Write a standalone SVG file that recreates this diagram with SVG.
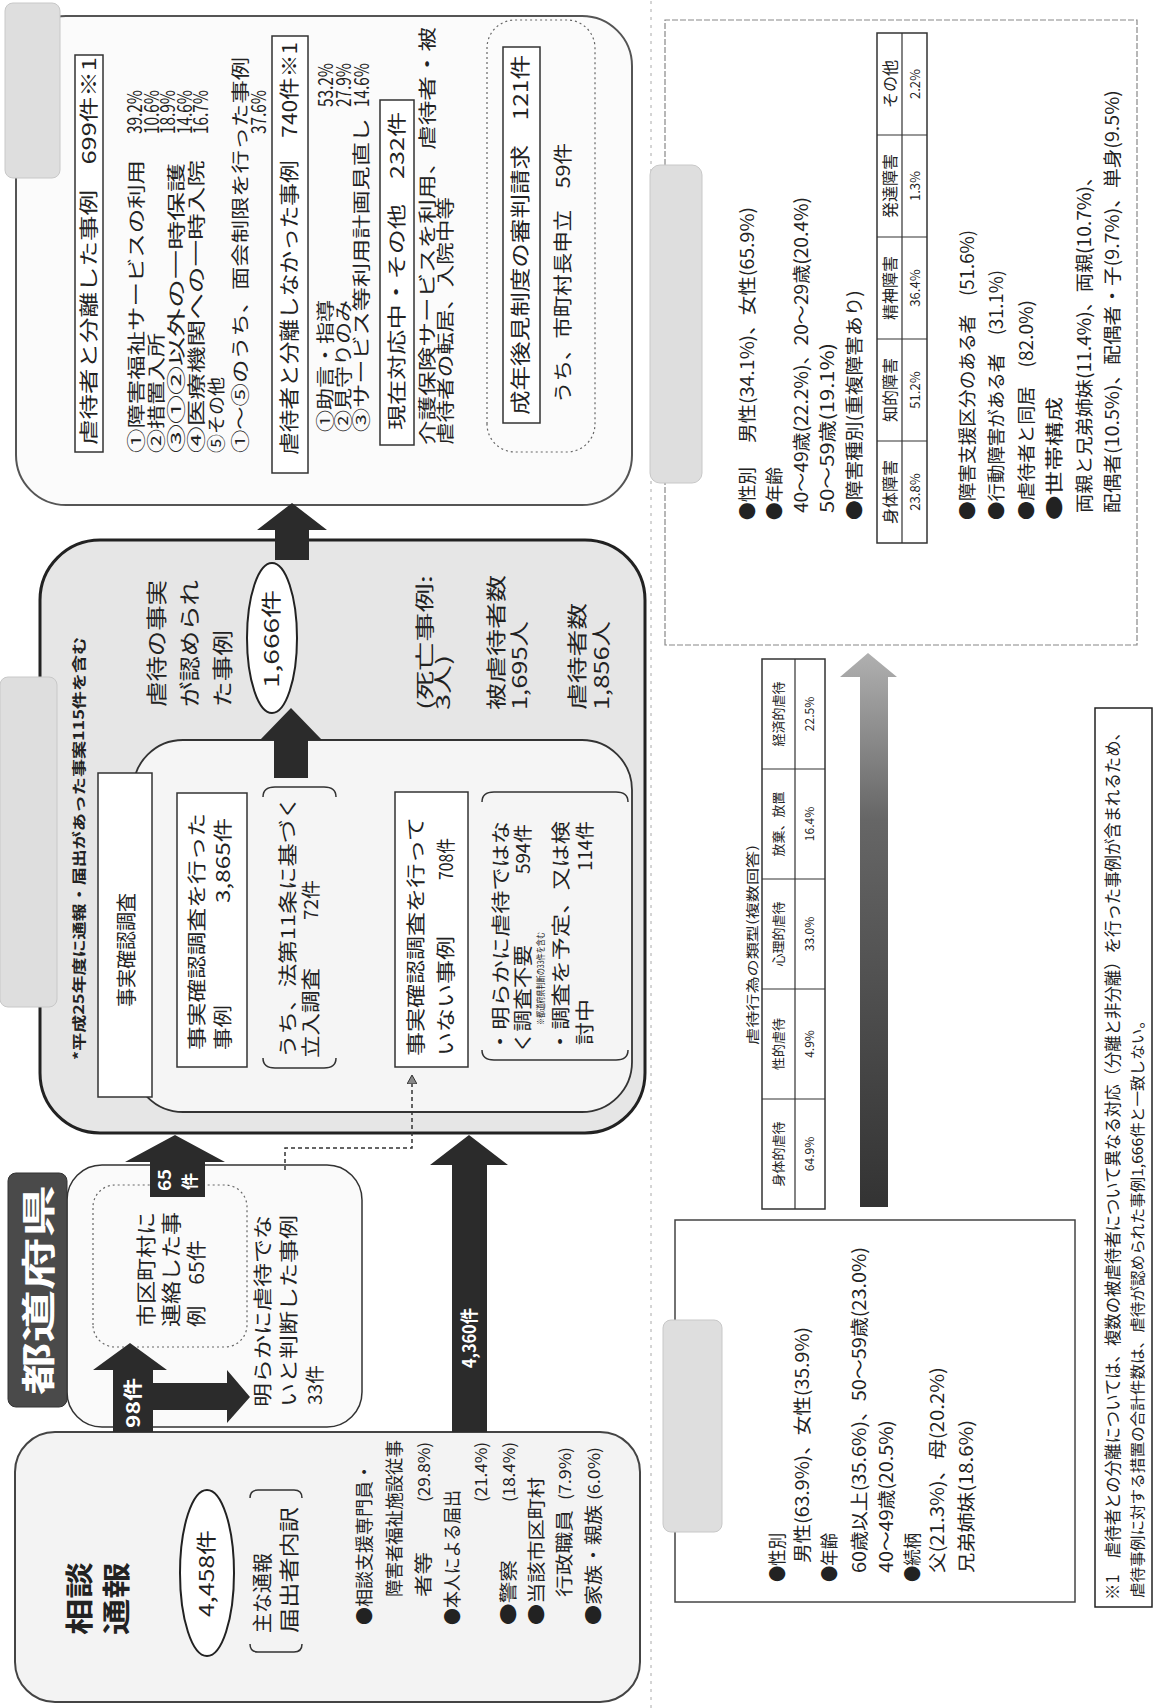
<svg xmlns="http://www.w3.org/2000/svg" width="1160" height="1708" viewBox="0 0 1160 1708">
<style>
text{font-family:"Noto Sans CJK JP","Noto Sans",sans-serif;fill:#222;}
.b{font-weight:bold;}
.w{fill:#fff;font-weight:bold;}
.bx{fill:#fff;stroke:#333;stroke-width:1.5;}
.dot{fill:none;stroke:#666;stroke-width:1.2;stroke-dasharray:2 3;}
.br{fill:none;stroke:#333;stroke-width:1.5;}
.arr{fill:#2b2b2b;}
.tab{fill:#dedede;stroke:#c8c8c8;stroke-width:1;}
.tl{stroke:#333;stroke-width:1.2;}
</style>
<defs>
<linearGradient id="ga" x1="0" y1="0" x2="1" y2="0">
<stop offset="0" stop-color="#333"/><stop offset="0.7" stop-color="#666"/><stop offset="1" stop-color="#b0b0b0"/>
</linearGradient>
<marker id="mh" markerWidth="10" markerHeight="10" refX="8" refY="5" orient="auto" markerUnits="userSpaceOnUse">
<path d="M0,0 L9,5 L0,10 Z" fill="#888" stroke="#333" stroke-width="1"/>
</marker>
</defs>
<rect x="0" y="0" width="1160" height="1708" fill="#fff"/>
<g transform="matrix(0 -1 1 0 0 1708)">
<line x1="0" y1="651" x2="1708" y2="651" stroke="#aaa" stroke-width="1" stroke-dasharray="3 5"/>

<g id="outcome">
<rect x="1203" y="16" width="489" height="616" rx="50" fill="#fbfbfb" stroke="#555" stroke-width="2"/>
<rect x="1530" y="5" width="175" height="55" rx="8" class="tab"/>
<rect x="1256" y="75" width="397" height="28" class="bx"/>
<text x="1263" y="96" font-size="19" textLength="388" lengthAdjust="spacingAndGlyphs">虐待者と分離した事例　699件※1</text>
<text x="1255" y="143" font-size="18" textLength="293" lengthAdjust="spacingAndGlyphs">①障害福祉サービスの利用</text>
<text x="1255" y="163" font-size="18" textLength="120" lengthAdjust="spacingAndGlyphs">②措置入所</text>
<text x="1255" y="183" font-size="18" textLength="290" lengthAdjust="spacingAndGlyphs">③①②以外の一時保護</text>
<text x="1255" y="203" font-size="18" textLength="293" lengthAdjust="spacingAndGlyphs">④医療機関への一時入院</text>
<text x="1255" y="223" font-size="18" textLength="76" lengthAdjust="spacingAndGlyphs">⑤その他</text>
<text x="1255" y="247" font-size="18" textLength="396" lengthAdjust="spacingAndGlyphs">①〜⑤のうち、面会制限を行った事例</text>
<text x="1574" y="142" font-size="20" textLength="44" lengthAdjust="spacingAndGlyphs">39.2%</text>
<text x="1574" y="159" font-size="20" textLength="44" lengthAdjust="spacingAndGlyphs">10.6%</text>
<text x="1574" y="175" font-size="20" textLength="44" lengthAdjust="spacingAndGlyphs">18.9%</text>
<text x="1574" y="192" font-size="20" textLength="44" lengthAdjust="spacingAndGlyphs">14.6%</text>
<text x="1574" y="208" font-size="20" textLength="44" lengthAdjust="spacingAndGlyphs">16.7%</text>
<text x="1574" y="266" font-size="20" textLength="44" lengthAdjust="spacingAndGlyphs">37.6%</text>
<rect x="1235" y="272" width="437" height="36" class="bx"/>
<text x="1253" y="297" font-size="20" textLength="413" lengthAdjust="spacingAndGlyphs">虐待者と分離しなかった事例　740件※1</text>
<text x="1276" y="332" font-size="18" textLength="132" lengthAdjust="spacingAndGlyphs">①助言・指導</text>
<text x="1276" y="350" font-size="18" textLength="132" lengthAdjust="spacingAndGlyphs">②見守りのみ</text>
<text x="1276" y="368" font-size="18" textLength="314" lengthAdjust="spacingAndGlyphs">③サービス等利用計画見直し</text>
<text x="1601" y="333" font-size="20" textLength="44" lengthAdjust="spacingAndGlyphs">53.2%</text>
<text x="1601" y="351" font-size="20" textLength="44" lengthAdjust="spacingAndGlyphs">27.9%</text>
<text x="1601" y="369" font-size="20" textLength="44" lengthAdjust="spacingAndGlyphs">14.6%</text>
<rect x="1263" y="380" width="345" height="34" class="bx"/>
<text x="1278" y="404" font-size="19" textLength="318" lengthAdjust="spacingAndGlyphs">現在対応中・その他　232件</text>
<text x="1263" y="434" font-size="18" textLength="418" lengthAdjust="spacingAndGlyphs">介護保険サービスを利用、虐待者・被</text>
<text x="1263" y="452" font-size="18" textLength="248" lengthAdjust="spacingAndGlyphs">虐待者の転居、入院中等</text>
<rect x="1256" y="487" width="432" height="108" rx="28" class="dot"/>
<rect x="1285" y="503" width="376" height="37" class="bx"/>
<text x="1293" y="528" font-size="20" textLength="360" lengthAdjust="spacingAndGlyphs">成年後見制度の審判請求　121件</text>
<text x="1305" y="570" font-size="19" textLength="260" lengthAdjust="spacingAndGlyphs">うち、市町村長申立　59件</text>
</g>

<g id="shikuchoson">
<rect x="575" y="40" width="593" height="605" rx="60" fill="#e6e6e6" stroke="#222" stroke-width="3"/>
<rect x="701" y="0" width="330" height="57" rx="8" class="tab"/>
<text x="648" y="84" font-size="14" class="b" textLength="423" lengthAdjust="spacingAndGlyphs">*平成25年度に通報・届出があった事案115件を含む</text>
<rect x="596" y="133" width="372" height="499" rx="50" fill="#f5f5f5" stroke="#333" stroke-width="1.8"/>
<rect x="611" y="98" width="324" height="54" class="bx"/>
<text x="701" y="134" font-size="20" textLength="114" lengthAdjust="spacingAndGlyphs">事実確認調査</text>
<rect x="641" y="177" width="274" height="70" class="bx"/>
<text x="658" y="204" font-size="19" textLength="237" lengthAdjust="spacingAndGlyphs">事実確認調査を行った</text>
<text x="658" y="230" font-size="19" textLength="45" lengthAdjust="spacingAndGlyphs">事例</text>
<text x="805" y="230" font-size="19" textLength="85" lengthAdjust="spacingAndGlyphs">3,865件</text>
<path class="br" d="M650 263 Q640 263 640 275 L640 324 Q640 336 650 336 M911 263 Q921 263 921 275 L921 324 Q921 336 911 336"/>
<text x="650" y="295" font-size="19" textLength="262" lengthAdjust="spacingAndGlyphs">うち、法第11条に基づく</text>
<text x="650" y="318" font-size="19" textLength="90" lengthAdjust="spacingAndGlyphs">立入調査</text>
<text x="788" y="318" font-size="19" textLength="40" lengthAdjust="spacingAndGlyphs">72件</text>
<rect x="641" y="395" width="275" height="73" class="bx"/>
<text x="652" y="423" font-size="19" textLength="239" lengthAdjust="spacingAndGlyphs">事実確認調査を行って</text>
<text x="652" y="453" font-size="19" textLength="120" lengthAdjust="spacingAndGlyphs">いない事例</text>
<text x="828" y="453" font-size="19" textLength="42" lengthAdjust="spacingAndGlyphs">708件</text>
<path class="br" d="M658 482 Q648 482 648 494 L648 616 Q648 628 658 628 M906 482 Q916 482 916 494 L916 616 Q916 628 906 628"/>
<text x="655" y="508" font-size="19" textLength="232" lengthAdjust="spacingAndGlyphs">・明らかに虐待ではな</text>
<text x="655" y="530" font-size="19" textLength="108" lengthAdjust="spacingAndGlyphs">く調査不要</text>
<text x="834" y="530" font-size="19" textLength="50" lengthAdjust="spacingAndGlyphs">594件</text>
<text x="683" y="544" font-size="9" textLength="93" lengthAdjust="spacingAndGlyphs">※都道府県判断の33件を含む</text>
<text x="655" y="568" font-size="19" textLength="232" lengthAdjust="spacingAndGlyphs">・調査を予定、又は検</text>
<text x="663" y="592" font-size="19" textLength="46" lengthAdjust="spacingAndGlyphs">討中</text>
<text x="837" y="592" font-size="19" textLength="50" lengthAdjust="spacingAndGlyphs">114件</text>
<text x="1001" y="164" font-size="21" textLength="127" lengthAdjust="spacingAndGlyphs">虐待の事実</text>
<text x="1001" y="197" font-size="21" textLength="127" lengthAdjust="spacingAndGlyphs">が認められ</text>
<text x="1001" y="230" font-size="21" textLength="77" lengthAdjust="spacingAndGlyphs">た事例</text>
<ellipse cx="1070" cy="272" rx="75" ry="25" fill="#fff" stroke="#222" stroke-width="2"/>
<text x="1020" y="279" font-size="20" textLength="98" lengthAdjust="spacingAndGlyphs">1,666件</text>
<text x="998" y="432" font-size="19" textLength="135" lengthAdjust="spacingAndGlyphs">(死亡事例:</text>
<text x="998" y="450" font-size="19" textLength="55" lengthAdjust="spacingAndGlyphs">3人)</text>
<text x="998" y="504" font-size="20" textLength="135" lengthAdjust="spacingAndGlyphs">被虐待者数</text>
<text x="998" y="527" font-size="20" textLength="89" lengthAdjust="spacingAndGlyphs">1,695人</text>
<text x="998" y="585" font-size="20" textLength="107" lengthAdjust="spacingAndGlyphs">虐待者数</text>
<text x="998" y="609" font-size="20" textLength="89" lengthAdjust="spacingAndGlyphs">1,856人</text>
</g>

<g id="todofuken">
<rect x="281" y="67" width="262" height="295" rx="35" fill="#fafafa" stroke="#333" stroke-width="1.5"/>
<rect x="301" y="8" width="234" height="59" rx="8" fill="#4a4a4a" stroke="#333"/>
<text x="313" y="51" font-size="34" class="w" textLength="210" lengthAdjust="spacingAndGlyphs">都道府県</text>
<rect x="361" y="93" width="162" height="154" rx="22" class="dot"/>
<text x="381" y="154" font-size="20" textLength="115" lengthAdjust="spacingAndGlyphs">市区町村に</text>
<text x="381" y="179" font-size="20" textLength="115" lengthAdjust="spacingAndGlyphs">連絡した事</text>
<text x="381" y="204" font-size="20" textLength="87" lengthAdjust="spacingAndGlyphs">例　65件</text>
<text x="301" y="270" font-size="19" textLength="192" lengthAdjust="spacingAndGlyphs">明らかに虐待でな</text>
<text x="301" y="296" font-size="19" textLength="192" lengthAdjust="spacingAndGlyphs">いと判断した事例</text>
<text x="303" y="322" font-size="19" textLength="40" lengthAdjust="spacingAndGlyphs">33件</text>
</g>

<g id="sodan">
<rect x="6" y="15" width="270" height="625" rx="40" fill="#f3f3f3" stroke="#444" stroke-width="2"/>
<text x="73" y="90" font-size="28" class="b" textLength="73" lengthAdjust="spacingAndGlyphs">相談</text>
<text x="73" y="127" font-size="28" class="b" textLength="73" lengthAdjust="spacingAndGlyphs">通報</text>
<ellipse cx="135" cy="207" rx="83" ry="27" fill="#fff" stroke="#222" stroke-width="2"/>
<text x="91" y="214" font-size="20" textLength="87" lengthAdjust="spacingAndGlyphs">4,458件</text>
<path class="br" d="M64 250 Q56 250 56 258 L56 294 Q56 302 64 302 M210 250 Q218 250 218 258 L218 294 Q218 302 210 302"/>
<text x="75" y="270" font-size="20" textLength="80" lengthAdjust="spacingAndGlyphs">主な通報</text>
<text x="75" y="297" font-size="20" textLength="126" lengthAdjust="spacingAndGlyphs">届出者内訳</text>
<text x="83" y="371" font-size="18" textLength="162" lengthAdjust="spacingAndGlyphs">●相談支援専門員・</text>
<text x="111" y="401" font-size="18" textLength="157" lengthAdjust="spacingAndGlyphs">障害者福祉施設従事</text>
<text x="111" y="430" font-size="18" textLength="45" lengthAdjust="spacingAndGlyphs">者等</text>
<text x="206" y="430" font-size="16" textLength="60" lengthAdjust="spacingAndGlyphs">(29.8%)</text>
<text x="83" y="459" font-size="18" textLength="135" lengthAdjust="spacingAndGlyphs">●本人による届出</text>
<text x="206" y="487" font-size="16" textLength="60" lengthAdjust="spacingAndGlyphs">(21.4%)</text>
<text x="83" y="515" font-size="18" textLength="65" lengthAdjust="spacingAndGlyphs">●警察</text>
<text x="206" y="515" font-size="16" textLength="60" lengthAdjust="spacingAndGlyphs">(18.4%)</text>
<text x="83" y="543" font-size="18" textLength="148" lengthAdjust="spacingAndGlyphs">●当該市区町村</text>
<text x="111" y="571" font-size="18" textLength="87" lengthAdjust="spacingAndGlyphs">行政職員</text>
<text x="208" y="571" font-size="16" textLength="53" lengthAdjust="spacingAndGlyphs">(7.9%)</text>
<text x="83" y="600" font-size="18" textLength="120" lengthAdjust="spacingAndGlyphs">●家族・親族</text>
<text x="208" y="600" font-size="16" textLength="53" lengthAdjust="spacingAndGlyphs">(6.0%)</text>
</g>

<g id="hi-gyakutaisha">
<rect x="1063" y="665" width="625" height="472" fill="#fff" stroke="#888" stroke-width="1.2" stroke-dasharray="6 2"/>
<rect x="1225" y="650" width="318" height="52" rx="10" class="tab"/>
<text x="1188" y="754" font-size="18" textLength="53" lengthAdjust="spacingAndGlyphs">●性別</text>
<text x="1265" y="754" font-size="18" textLength="236" lengthAdjust="spacingAndGlyphs">男性(34.1%)、女性(65.9%)</text>
<text x="1188" y="781" font-size="18" textLength="53" lengthAdjust="spacingAndGlyphs">●年齢</text>
<text x="1195" y="808" font-size="18" textLength="316" lengthAdjust="spacingAndGlyphs">40〜49歳(22.2%)、20〜29歳(20.4%)</text>
<text x="1195" y="834" font-size="18" textLength="170" lengthAdjust="spacingAndGlyphs">50〜59歳(19.1%)</text>
<text x="1188" y="861" font-size="18" textLength="230" lengthAdjust="spacingAndGlyphs">●障害種別(重複障害あり)</text>
<rect x="1165" y="877" width="510" height="50" class="bx"/>
<path class="tl" d="M1165 902 H1675 M1267 877 V927 M1369 877 V927 M1471 877 V927 M1573 877 V927"/>
<g font-size="16" text-anchor="middle">
<text x="1216" y="896">身体障害</text><text x="1318" y="896">知的障害</text><text x="1420" y="896">精神障害</text><text x="1522" y="896">発達障害</text><text x="1624" y="896">その他</text>
</g>
<g font-size="13" text-anchor="middle">
<text x="1216" y="920">23.8%</text><text x="1318" y="920">51.2%</text><text x="1420" y="920">36.4%</text><text x="1522" y="920">1.3%</text><text x="1624" y="920">2.2%</text>
</g>
<text x="1188" y="974" font-size="18" textLength="290" lengthAdjust="spacingAndGlyphs">●障害支援区分のある者　(51.6%)</text>
<text x="1188" y="1003" font-size="18" textLength="250" lengthAdjust="spacingAndGlyphs">●行動障害がある者　(31.1%)</text>
<text x="1188" y="1033" font-size="18" textLength="220" lengthAdjust="spacingAndGlyphs">●虐待者と同居　(82.0%)</text>
<text x="1188" y="1061" font-size="18" textLength="123" lengthAdjust="spacingAndGlyphs">●世帯構成</text>
<text x="1195" y="1091" font-size="18" textLength="346" lengthAdjust="spacingAndGlyphs">両親と兄弟姉妹(11.4%)、両親(10.7%)、</text>
<text x="1195" y="1119" font-size="18" textLength="423" lengthAdjust="spacingAndGlyphs">配偶者(10.5%)、配偶者・子(9.7%)、単身(9.5%)</text>
</g>

<g id="ruikei">
<text x="663" y="757" font-size="13" textLength="200" lengthAdjust="spacingAndGlyphs">虐待行為の類型(複数回答)</text>
<rect x="499" y="762" width="550" height="63" class="bx"/>
<path class="tl" d="M499 795 H1049 M609 762 V825 M719 762 V825 M829 762 V825 M939 762 V825"/>
<g font-size="13" text-anchor="middle">
<text x="554" y="783">身体的虐待</text><text x="664" y="783">性的虐待</text><text x="774" y="783">心理的虐待</text><text x="884" y="783">放棄、放置</text><text x="994" y="783">経済的虐待</text>
</g>
<g font-size="12" text-anchor="middle">
<text x="554" y="814">64.9%</text><text x="664" y="814">4.9%</text><text x="774" y="814">33.0%</text><text x="884" y="814">16.4%</text><text x="994" y="814">22.5%</text>
</g>
</g>

<g id="gyakutaisha">
<rect x="106" y="675" width="382" height="400" fill="#fff" stroke="#444" stroke-width="1.5"/>
<rect x="176" y="663" width="212" height="59" rx="8" class="tab"/>
<text x="126" y="784" font-size="18" textLength="49" lengthAdjust="spacingAndGlyphs">●性別</text>
<text x="145" y="809" font-size="18" textLength="236" lengthAdjust="spacingAndGlyphs">男性(63.9%)、女性(35.9%)</text>
<text x="126" y="836" font-size="18" textLength="49" lengthAdjust="spacingAndGlyphs">●年齢</text>
<text x="135" y="866" font-size="18" textLength="326" lengthAdjust="spacingAndGlyphs">60歳以上(35.6%)、50〜59歳(23.0%)</text>
<text x="135" y="893" font-size="18" textLength="153" lengthAdjust="spacingAndGlyphs">40〜49歳(20.5%)</text>
<text x="126" y="919" font-size="18" textLength="49" lengthAdjust="spacingAndGlyphs">●続柄</text>
<text x="135" y="944" font-size="18" textLength="206" lengthAdjust="spacingAndGlyphs">父(21.3%)、母(20.2%)</text>
<text x="135" y="973" font-size="18" textLength="153" lengthAdjust="spacingAndGlyphs">兄弟姉妹(18.6%)</text>
</g>

<g id="footnote">
<rect x="101" y="1095" width="899" height="57" fill="#fff" stroke="#222" stroke-width="1.5"/>
<text x="108" y="1119" font-size="17" textLength="876" lengthAdjust="spacingAndGlyphs">※1　虐待者との分離については、複数の被虐待者について異なる対応（分離と非分離）を行った事例が含まれるため、</text>
<text x="110" y="1143" font-size="15" textLength="585" lengthAdjust="spacingAndGlyphs">虐待事例に対する措置の合計件数は、虐待が認められた事例1,666件と一致しない。</text>
</g>

<g id="connectors">
<path class="arr" d="M276 113 H338 V93 L365 130 L338 167 V153 H325 V227 H338 L311 250 L285 227 H298 V153 H276 Z"/>
<text x="280" y="140" font-size="19" class="w" textLength="50" lengthAdjust="spacingAndGlyphs">98件</text>
<path class="arr" d="M511 150 H546 V125 L573 175 L546 225 V205 H511 Z"/>
<text x="517" y="171" font-size="17" class="w" textLength="22" lengthAdjust="spacingAndGlyphs">65</text>
<text x="518" y="196" font-size="17" class="w">件</text>
<path class="arr" d="M276 452 H543 V430 L573 469 L543 508 V487 H276 Z"/>
<text x="340" y="476" font-size="18" class="w" textLength="60" lengthAdjust="spacingAndGlyphs">4,360件</text>
<path class="arr" d="M930 274 H968 V260 L1000 291 L968 322 V308 H930 Z"/>
<path class="arr" d="M1148 275 H1178 V257 L1205 292 L1178 327 V309 H1148 Z"/>
<path d="M538 285 H560 V412 H632" fill="none" stroke="#333" stroke-width="1.5" stroke-dasharray="4 3" marker-end="url(#mh)"/>
<path fill="url(#ga)" d="M501 860 H1031 V840 L1055 868 L1031 897 V888 H501 Z"/>
</g>
</g>
</svg>
